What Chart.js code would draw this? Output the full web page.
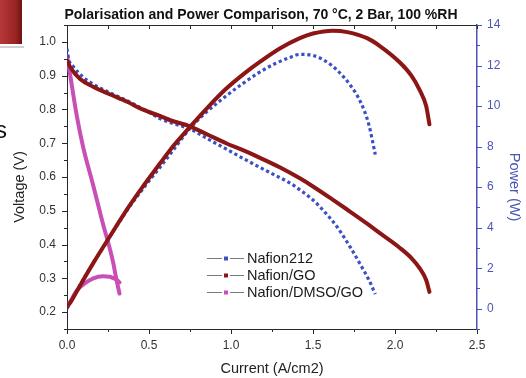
<!DOCTYPE html>
<html><head><meta charset="utf-8">
<script src="https://cdn.jsdelivr.net/npm/chart.js@4"></script>
<style>
html,body{margin:0;padding:0;background:#fff;overflow:hidden}
#wrap{position:relative;width:526px;height:378px}
canvas{position:absolute;left:0;top:0}
#blk{position:absolute;left:0;top:0;width:22px;height:44px;background:linear-gradient(90deg,#b83838,#9a2424 70%,#6e1212)}
#ln{position:absolute;left:0;top:46px;width:24px;height:2px;background:#d0d0d0}
#s{position:absolute;left:-5px;top:116px;font:24px 'Liberation Sans',Arial,sans-serif;color:#111}
</style></head>
<body><div id="wrap"><canvas id="c" width="526" height="378" style="width:526px;height:378px"></canvas><div id="blk"></div><div id="ln"></div><div id="s">s</div></div>
<script>
// ---- data ----
const xTicks = [0, 0.5, 1.0, 1.5, 2.0, 2.5];
const voltageTicks = [0.2, 0.3, 0.4, 0.5, 0.6, 0.7, 0.8, 0.9, 1.0];
const powerTicks = [0, 2, 4, 6, 8, 10, 12, 14];
const seriesNames = ['Nafion212', 'Nafion/GO', 'Nafion/DMSO/GO'];

const n212Current = [0, 0.01, 0.04, 0.1, 0.16, 0.25, 0.37, 0.5, 0.57, 0.65, 0.75, 0.85, 0.97, 1.07, 1.17, 1.27, 1.36, 1.42, 1.5, 1.58, 1.65, 1.73, 1.79, 1.84, 1.88];
const n212Voltage = [0.98, 0.95, 0.926, 0.895, 0.875, 0.852, 0.825, 0.792, 0.772, 0.758, 0.742, 0.715, 0.683, 0.656, 0.63, 0.605, 0.582, 0.562, 0.532, 0.492, 0.45, 0.39, 0.34, 0.296, 0.253];
const n212Power   = [0, 0.15, 0.6, 1.45, 2.25, 3.4, 4.9, 6.3, 7.0, 7.85, 8.9, 9.7, 10.5, 11.1, 11.65, 12.1, 12.4, 12.55, 12.5, 12.2, 11.75, 11.0, 10.2, 9.1, 7.6];

const goCurrent = [0, 0.02, 0.08, 0.16, 0.26, 0.37, 0.46, 0.57, 0.63, 0.75, 0.86, 0.97, 1.08, 1.18, 1.3, 1.42, 1.5, 1.62, 1.71, 1.83, 1.91, 2.03, 2.1, 2.15, 2.19, 2.21];
const goVoltage = [0.945, 0.925, 0.89, 0.867, 0.845, 0.822, 0.80, 0.78, 0.768, 0.75, 0.725, 0.70, 0.678, 0.656, 0.628, 0.596, 0.572, 0.533, 0.503, 0.462, 0.433, 0.39, 0.36, 0.33, 0.295, 0.26];
const goPower   = [0.1, 0.3, 1.15, 2.25, 3.55, 4.95, 6.0, 7.2, 7.85, 8.97, 9.95, 10.85, 11.6, 12.2, 12.85, 13.35, 13.58, 13.72, 13.65, 13.35, 12.95, 12.15, 11.5, 10.8, 10.0, 9.1];

const dmsoCurrent = [0, 0.02, 0.06, 0.1, 0.16, 0.22, 0.26, 0.28, 0.3, 0.32];
const dmsoVoltage = [0.96, 0.9, 0.78, 0.685, 0.575, 0.46, 0.39, 0.35, 0.30, 0.255];
const dmsoPower   = [0.1, 0.35, 0.9, 1.2, 1.5, 1.6, 1.58, 1.52, 1.45, 1.3];

// ---- styling ----
const FONT = "'Liberation Sans', Arial, Helvetica, sans-serif";
const BLUE = '#3c50c6', RED = '#8c1616', MAG = '#c94eb6', AXBLUE = '#4a55b5', INK = '#2a2a2a';
const pts = (xs, ys) => xs.map((x, i) => ({x: x, y: ys[i]}));
const fixTicks = arr => s => { s.ticks = arr.map(v => ({value: v})); };

function solid(data, axis, color) {
  return {data: data, yAxisID: axis, borderColor: color, backgroundColor: color, borderWidth: 4,
          pointRadius: 0, cubicInterpolationMode: 'monotone', fill: false, borderCapStyle: 'round', borderJoinStyle: 'round'};
}
function dotted(data, axis, color) {
  return {data: data, yAxisID: axis, borderColor: color, backgroundColor: color, borderWidth: 3.2,
          borderDash: [3.2, 2.8], pointRadius: 0, cubicInterpolationMode: 'monotone', fill: false, borderCapStyle: 'butt'};
}

const deco = {
  id: 'deco',
  afterDraw(chart) {
    const ctx = chart.ctx, a = chart.chartArea;
    const sx = chart.scales.x, sy = chart.scales.y, s2 = chart.scales.y2;
    ctx.save();
    ctx.lineWidth = 1;
    ctx.strokeStyle = INK;
    ctx.beginPath(); ctx.moveTo(a.left, a.top + 0.5); ctx.lineTo(a.right, a.top + 0.5); ctx.stroke();
    for (let v = 0; v <= 2.5001; v += 0.25) {
      const px = Math.round(sx.getPixelForValue(v)) + 0.5;
      const major = Math.abs(v * 2 - Math.round(v * 2)) < 1e-6;
      ctx.beginPath(); ctx.moveTo(px, a.bottom); ctx.lineTo(px, a.bottom + (major ? 5 : 3)); ctx.stroke();
      ctx.beginPath(); ctx.moveTo(px, a.top); ctx.lineTo(px, a.top + 4); ctx.stroke();
    }
    for (let k = 3; k <= 21; k++) {
      const v = k * 0.05;
      const py = Math.round(sy.getPixelForValue(v)) + 0.5;
      const major = k % 2 === 0;
      ctx.beginPath(); ctx.moveTo(a.left, py); ctx.lineTo(a.left - (major ? 5 : 3), py); ctx.stroke();
    }
    ctx.strokeStyle = AXBLUE;
    for (let v = -1; v <= 14; v++) {
      const py = Math.round(s2.getPixelForValue(v)) + 0.5;
      const major = v % 2 === 0;
      ctx.beginPath(); ctx.moveTo(a.right, py); ctx.lineTo(a.right + (major ? 5 : 3), py); ctx.stroke();
    }
    // titles
    ctx.fillStyle = '#111';
    ctx.font = 'bold 14px ' + FONT;
    ctx.textAlign = 'center'; ctx.textBaseline = 'middle';
    ctx.fillText('Polarisation and Power Comparison, 70 \u00B0C, 2 Bar, 100 %RH', 261, 15);
    ctx.font = '14.5px ' + FONT; ctx.fillStyle = '#222';
    ctx.fillText('Current (A/cm2)', 272, 369);
    ctx.save(); ctx.translate(20, 187); ctx.rotate(-Math.PI / 2);
    ctx.fillText('Voltage (V)', 0, 0); ctx.restore();
    ctx.save(); ctx.fillStyle = AXBLUE; ctx.translate(514, 187); ctx.rotate(Math.PI / 2);
    ctx.fillText('Power (W)', 0, 0); ctx.restore();
    // legend
    const cols = [BLUE, RED, MAG], rows = [258, 275, 292];
    ctx.textAlign = 'left';
    for (let i = 0; i < 3; i++) {
      const y = rows[i];
      ctx.strokeStyle = '#7a7a7a';
      ctx.beginPath(); ctx.moveTo(207, y + 0.5); ctx.lineTo(222, y + 0.5); ctx.moveTo(230, y + 0.5); ctx.lineTo(244, y + 0.5); ctx.stroke();
      ctx.fillStyle = cols[i]; ctx.fillRect(224, y - 1.5, 4, 4);
      ctx.fillStyle = '#1a1a1a'; ctx.font = '14.5px ' + FONT;
      ctx.fillText(seriesNames[i], 247, y + 1);
    }
    ctx.restore();
  }
};

new Chart(document.getElementById('c'), {
  type: 'line',
  data: {
    datasets: [
      solid(pts(goCurrent, goVoltage), 'y', RED),
      solid(pts(goCurrent, goPower), 'y2', RED),
      dotted(pts(n212Current, n212Voltage), 'y', BLUE),
      dotted(pts(n212Current, n212Power), 'y2', BLUE),
      solid(pts(dmsoCurrent, dmsoVoltage), 'y', MAG),
      solid(pts(dmsoCurrent, dmsoPower), 'y2', MAG)
    ]
  },
  options: {
    responsive: false, animation: false, devicePixelRatio: 1,
    layout: {padding: {top: 25, left: 0, right: 0, bottom: 0}},
    plugins: {legend: {display: false}, tooltip: {enabled: false}, title: {display: false}},
    elements: {line: {clip: false}},
    scales: {
      x: {type: 'linear', min: 0, max: 2.5, afterBuildTicks: fixTicks(xTicks),
          afterFit: s => { s.height = 49; },
          grid: {display: false, drawTicks: false}, border: {display: true, color: INK, width: 1},
          ticks: {padding: 9, color: '#333', font: {family: FONT, size: 12}, callback: v => v.toFixed(1), maxRotation: 0, autoSkip: false}},
      y: {type: 'linear', position: 'left', min: 0.15, max: 1.05, afterBuildTicks: fixTicks(voltageTicks),
          afterFit: s => { s.width = 67; },
          grid: {display: false, drawTicks: false}, border: {display: true, color: INK, width: 1},
          ticks: {padding: 11, color: '#333', font: {family: FONT, size: 12}, callback: v => v.toFixed(1), autoSkip: false}},
      y2: {type: 'linear', position: 'right', min: -1, max: 14, afterBuildTicks: fixTicks(powerTicks),
          afterFit: s => { s.width = 49; },
          grid: {display: false, drawTicks: false}, border: {display: true, color: AXBLUE, width: 1.5},
          ticks: {padding: 10, color: AXBLUE, font: {family: FONT, size: 12}, callback: v => String(v), autoSkip: false}}
    }
  },
  plugins: [deco]
});
</script></body></html>
